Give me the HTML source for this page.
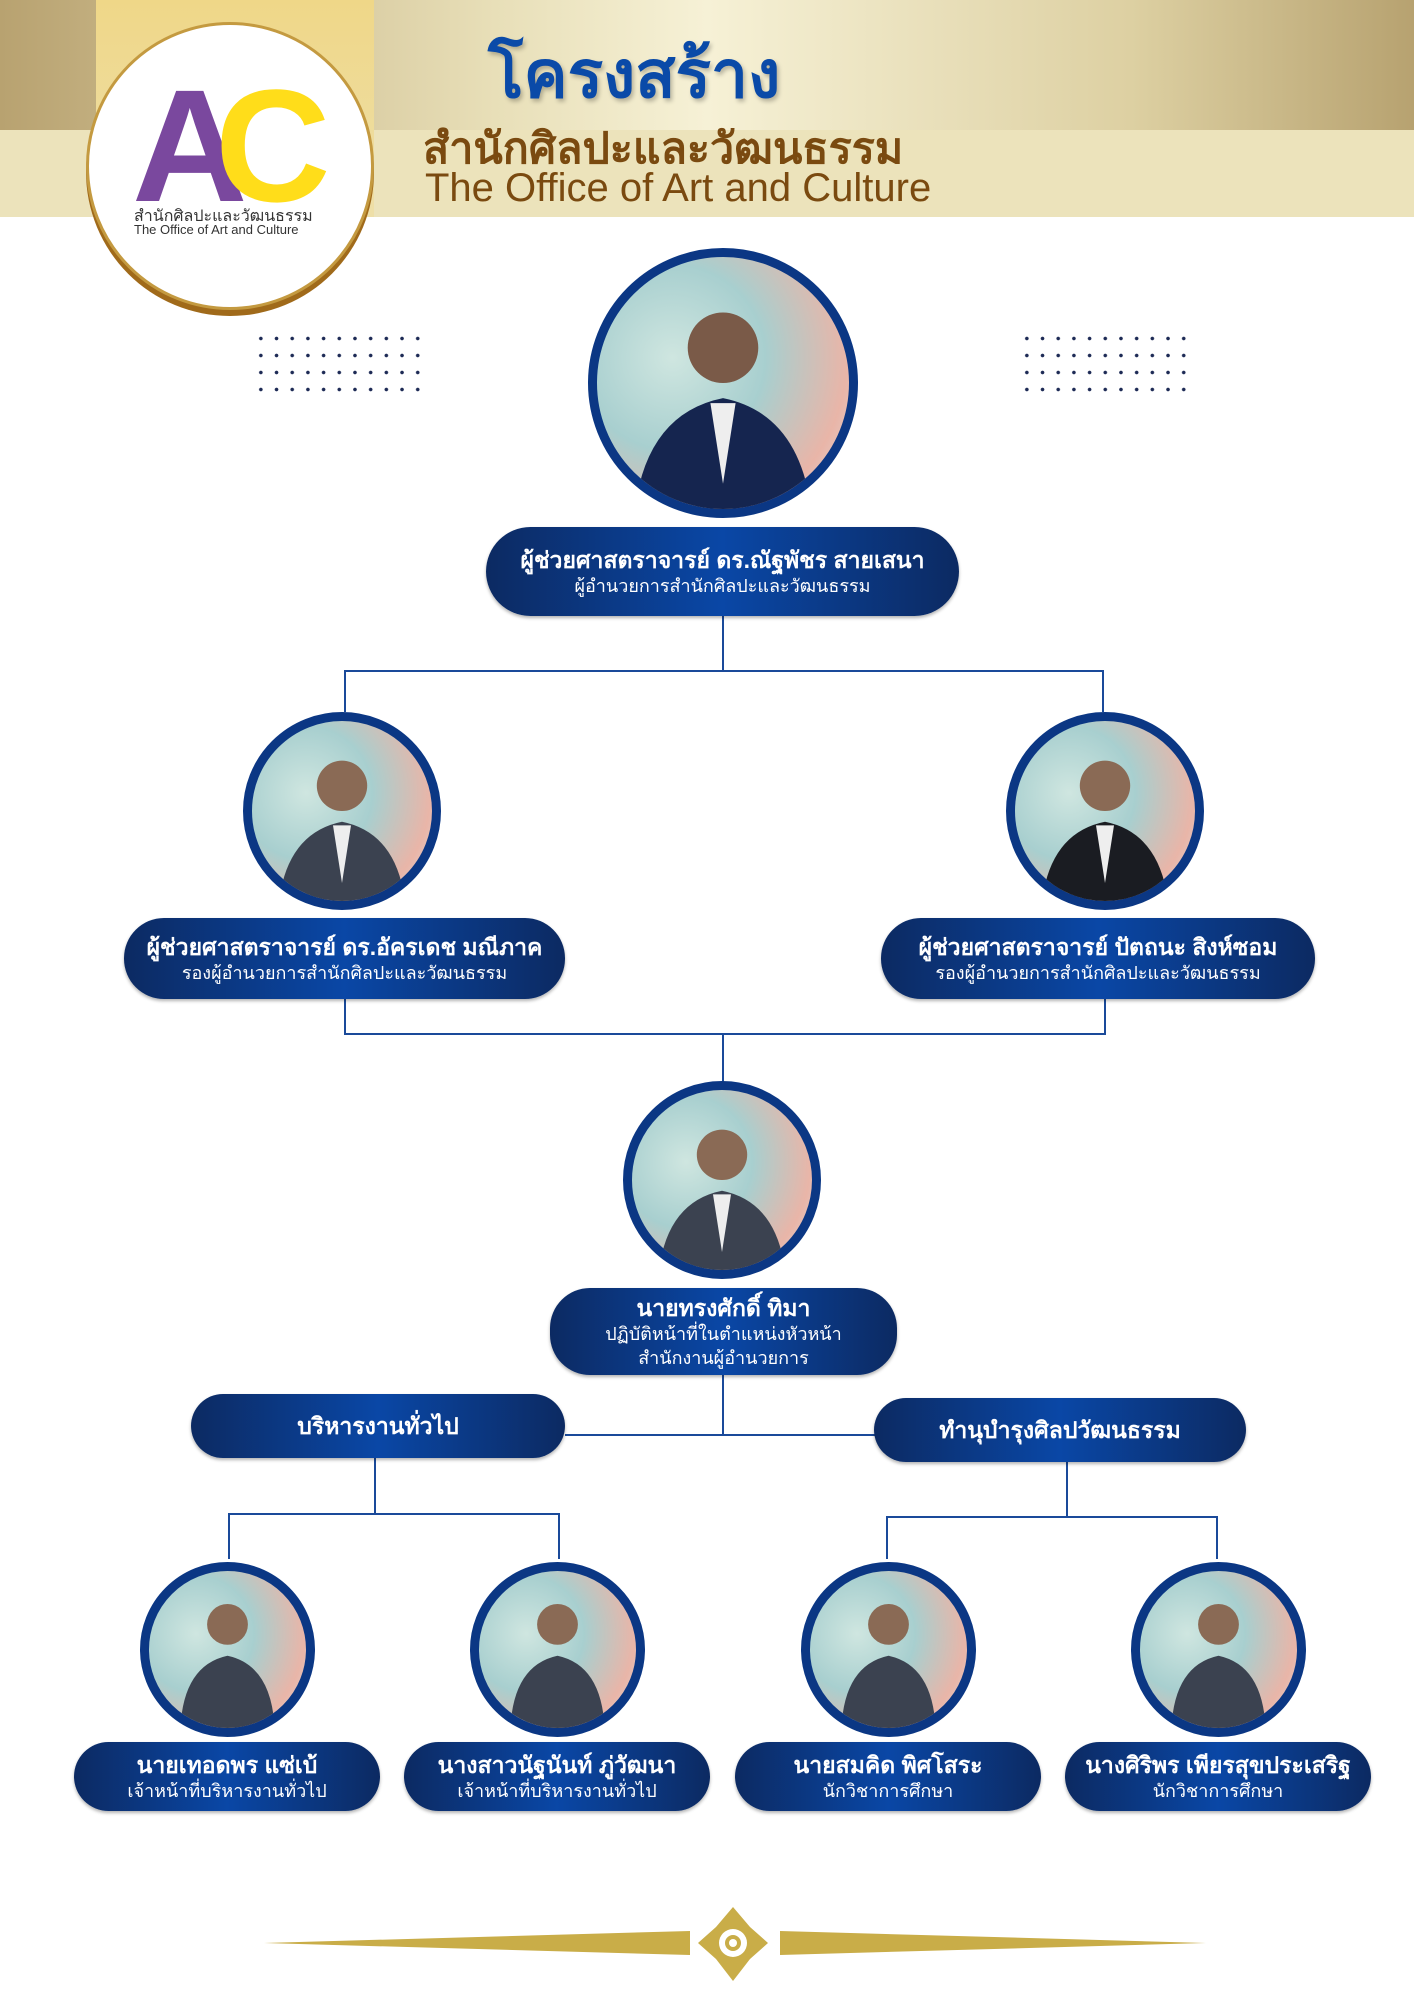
<!DOCTYPE html>
<html><head><meta charset="utf-8">
<style>
*{margin:0;padding:0;box-sizing:border-box}
body{width:1414px;height:2000px;position:relative;background:#fff;font-family:"Liberation Sans","Noto Sans CJK SC",sans-serif;overflow:hidden}
.a{position:absolute}
.box{position:absolute;border-radius:40px;background:linear-gradient(90deg,#0c2a62 0%,#0a47a6 50%,#0c2a62 100%);color:#fff;text-align:center;display:flex;flex-direction:column;justify-content:center;box-shadow:0 2px 3px rgba(0,0,0,.3)}
.box b{font-size:23px;line-height:28px}
.box span{font-size:18px;line-height:24px}
.ln{position:absolute;background:#1a4a9a}
.ph{position:absolute;border-radius:50%;border:9px solid #0b3784;overflow:hidden;background:radial-gradient(circle at 30% 40%,#cfe6e0 0,#a8cfcf 40%,#e9b5a8 75%,#d7e4e6 100%)}
.ph svg{position:absolute;left:0;top:0;width:100%;height:100%}
.dots{position:absolute;width:173px;height:68px;background-image:radial-gradient(circle,#1d2a55 1.6px,transparent 2px);background-size:15.7px 17px}
</style></head><body>
<div class="a" style="left:0;top:0;width:1414px;height:130px;background:linear-gradient(90deg,#b8a270 0%,#e8dfb8 35%,#f6f1d6 50%,#ddd0a2 80%,#b7a270 100%)"></div>
<div class="a" style="left:0;top:130px;width:1414px;height:87px;background:#ece3bb"></div>
<div class="a" style="left:96px;top:0;width:278px;height:217px;background:linear-gradient(180deg,#efd788,#eedfa8)"></div>
<div class="a" style="left:86px;top:22px;width:288px;height:288px;border-radius:50%;background:#fff;border:3px solid #c49a40;box-shadow:0 6px 0 #a06a1a"></div>
<div class="a" style="left:132px;top:66px;font-size:160px;font-weight:bold;color:#7a489e;line-height:1;letter-spacing:-20px">A</div>
<div class="a" style="left:215px;top:66px;font-size:160px;font-weight:bold;color:#ffdd1a;line-height:1">C</div>
<div class="a" style="left:134px;top:204px;font-size:16px;color:#333">สำนักศิลปะและวัฒนธรรม</div>
<div class="a" style="left:134px;top:222px;font-size:13px;color:#333">The Office of Art and Culture</div>
<div class="a" style="left:488px;top:22px;font-size:66px;font-weight:bold;color:#0a4aa8;text-shadow:2px 3px 4px rgba(0,0,0,.25)">โครงสร้าง</div>
<div class="a" style="left:423px;top:114px;font-size:43px;font-weight:bold;color:#7a4a10">สำนักศิลปะและวัฒนธรรม</div>
<div class="a" style="left:425px;top:166px;font-size:40px;color:#7a4a10">The Office of Art and Culture</div>

<div class="dots" style="left:253px;top:330px"></div>
<div class="dots" style="left:1019px;top:330px"></div>

<div class="ln" style="left:722px;top:616px;width:2px;height:55px"></div>
<div class="ln" style="left:344px;top:670px;width:760px;height:2px"></div>
<div class="ln" style="left:344px;top:670px;width:2px;height:42px"></div>
<div class="ln" style="left:1102px;top:670px;width:2px;height:42px"></div>
<div class="ln" style="left:344px;top:999px;width:2px;height:35px"></div>
<div class="ln" style="left:1104px;top:999px;width:2px;height:35px"></div>
<div class="ln" style="left:344px;top:1033px;width:762px;height:2px"></div>
<div class="ln" style="left:722px;top:1033px;width:2px;height:50px"></div>
<div class="ln" style="left:722px;top:1375px;width:2px;height:60px"></div>
<div class="ln" style="left:565px;top:1434px;width:310px;height:2px"></div>
<div class="ln" style="left:374px;top:1458px;width:2px;height:55px"></div>
<div class="ln" style="left:228px;top:1513px;width:332px;height:2px"></div>
<div class="ln" style="left:228px;top:1513px;width:2px;height:46px"></div>
<div class="ln" style="left:558px;top:1513px;width:2px;height:46px"></div>
<div class="ln" style="left:1066px;top:1462px;width:2px;height:55px"></div>
<div class="ln" style="left:886px;top:1516px;width:332px;height:2px"></div>
<div class="ln" style="left:886px;top:1516px;width:2px;height:43px"></div>
<div class="ln" style="left:1216px;top:1516px;width:2px;height:43px"></div>

<div class="ph" style="left:588px;top:248px;width:270px;height:270px"><svg viewBox="0 0 100 100"><circle cx="50" cy="36" r="14" fill="#7a5a48"/><path d="M15 100 Q20 62 50 56 Q80 62 85 100Z" fill="#15254f"/><path d="M45 58 L50 90 L55 58Z" fill="#eee"/></svg></div>
<div class="ph" style="left:243px;top:712px;width:198px;height:198px"><svg viewBox="0 0 100 100"><circle cx="50" cy="36" r="14" fill="#8a6a55"/><path d="M15 100 Q20 62 50 56 Q80 62 85 100Z" fill="#3b4250"/><path d="M45 58 L50 90 L55 58Z" fill="#eee"/></svg></div>
<div class="ph" style="left:1006px;top:712px;width:198px;height:198px"><svg viewBox="0 0 100 100"><circle cx="50" cy="36" r="14" fill="#8a6a55"/><path d="M15 100 Q20 62 50 56 Q80 62 85 100Z" fill="#1a1c22"/><path d="M45 58 L50 90 L55 58Z" fill="#eee"/></svg></div>
<div class="ph" style="left:623px;top:1081px;width:198px;height:198px"><svg viewBox="0 0 100 100"><circle cx="50" cy="36" r="14" fill="#8a6a55"/><path d="M15 100 Q20 62 50 56 Q80 62 85 100Z" fill="#3b4250"/><path d="M45 58 L50 90 L55 58Z" fill="#eee"/></svg></div>
<div class="ph" style="left:140px;top:1562px;width:175px;height:175px"><svg viewBox="0 0 100 100"><circle cx="50" cy="34" r="13" fill="#8a6a55"/><path d="M20 100 Q22 60 50 54 Q78 60 80 100Z" fill="#3b4250"/></svg></div>
<div class="ph" style="left:470px;top:1562px;width:175px;height:175px"><svg viewBox="0 0 100 100"><circle cx="50" cy="34" r="13" fill="#8a6a55"/><path d="M20 100 Q22 60 50 54 Q78 60 80 100Z" fill="#3b4250"/></svg></div>
<div class="ph" style="left:801px;top:1562px;width:175px;height:175px"><svg viewBox="0 0 100 100"><circle cx="50" cy="34" r="13" fill="#8a6a55"/><path d="M20 100 Q22 60 50 54 Q78 60 80 100Z" fill="#3b4250"/></svg></div>
<div class="ph" style="left:1131px;top:1562px;width:175px;height:175px"><svg viewBox="0 0 100 100"><circle cx="50" cy="34" r="13" fill="#8a6a55"/><path d="M20 100 Q22 60 50 54 Q78 60 80 100Z" fill="#3b4250"/></svg></div>

<div class="box" style="left:486px;top:527px;width:473px;height:89px;border-radius:45px"><b>ผู้ช่วยศาสตราจารย์ ดร.ณัฐพัชร สายเสนา</b><span>ผู้อำนวยการสำนักศิลปะและวัฒนธรรม</span></div>
<div class="box" style="left:124px;top:918px;width:441px;height:81px"><b>ผู้ช่วยศาสตราจารย์ ดร.อัครเดช มณีภาค</b><span>รองผู้อำนวยการสำนักศิลปะและวัฒนธรรม</span></div>
<div class="box" style="left:881px;top:918px;width:434px;height:81px"><b>ผู้ช่วยศาสตราจารย์ ปัตถนะ สิงห์ซอม</b><span>รองผู้อำนวยการสำนักศิลปะและวัฒนธรรม</span></div>
<div class="box" style="left:550px;top:1288px;width:347px;height:87px"><b>นายทรงศักดิ์ ทิมา</b><span>ปฏิบัติหน้าที่ในตำแหน่งหัวหน้า</span><span>สำนักงานผู้อำนวยการ</span></div>
<div class="box" style="left:191px;top:1394px;width:374px;height:64px"><b>บริหารงานทั่วไป</b></div>
<div class="box" style="left:874px;top:1398px;width:372px;height:64px"><b>ทำนุบำรุงศิลปวัฒนธรรม</b></div>
<div class="box" style="left:74px;top:1742px;width:306px;height:69px"><b>นายเทอดพร แซ่เบ้</b><span>เจ้าหน้าที่บริหารงานทั่วไป</span></div>
<div class="box" style="left:404px;top:1742px;width:306px;height:69px"><b>นางสาวนัฐนันท์ ภู่วัฒนา</b><span>เจ้าหน้าที่บริหารงานทั่วไป</span></div>
<div class="box" style="left:735px;top:1742px;width:306px;height:69px"><b>นายสมคิด พิศโสระ</b><span>นักวิชาการศึกษา</span></div>
<div class="box" style="left:1065px;top:1742px;width:306px;height:69px"><b>นางศิริพร เพียรสุขประเสริฐ</b><span>นักวิชาการศึกษา</span></div>

<svg class="a" style="left:260px;top:1905px" width="950" height="80" viewBox="0 0 950 80">
<polygon points="4,38 430,26 430,50" fill="#c9ad48"/>
<polygon points="520,26 946,38 520,50" fill="#c9ad48"/>
<path d="M473 2 L490 22 L508 38 L490 54 L473 76 L456 54 L438 38 L456 22Z" fill="#c9ad48"/>
<circle cx="473" cy="38" r="14" fill="#fff"/><circle cx="473" cy="38" r="8" fill="#c9ad48"/><circle cx="473" cy="38" r="4" fill="#fff"/>
</svg>
</body></html>
